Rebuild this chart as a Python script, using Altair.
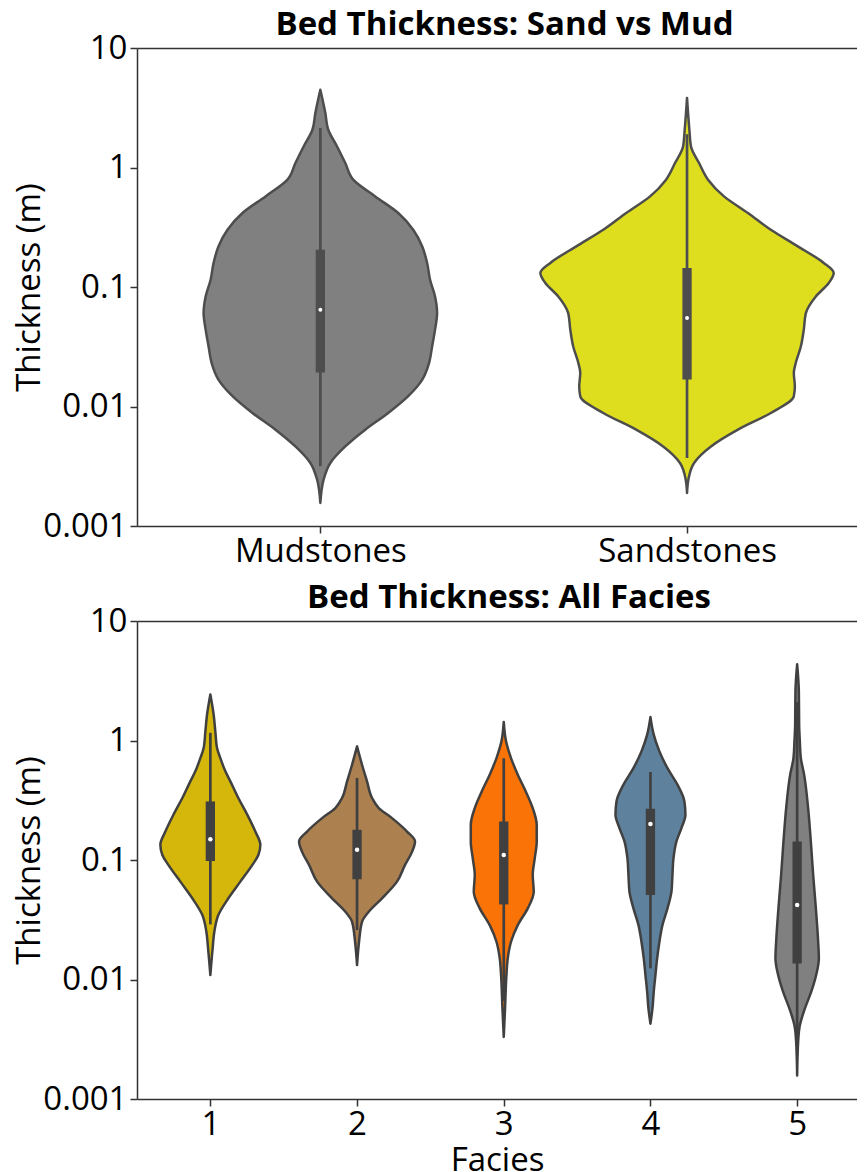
import altair as alt
import pandas as pd

FONT = "Open Sans"
Y_DOMAIN = [0.001, 10]
Y_TICKS = [0.001, 0.01, 0.1, 1, 10]

# ---------------- top panel: Sand vs Mud ----------------
top_groups = ["Mudstones", "Sandstones"]
top_positions = [0, 1]
top_fill = ["#808080", "#dfde1e"]

mud_thickness = [4.48, 2.86, 2.07, 1.50, 1.09, 0.791, 0.573, 0.416, 0.301, 0.219, 0.159, 0.115,
                 0.0834, 0.0605, 0.0440, 0.0318, 0.0231, 0.0167, 0.0122, 0.00883, 0.00640,
                 0.00463, 0.00337, 0.00244, 0.00156]
mud_density = [0, 0.034, 0.054, 0.114, 0.170, 0.224, 0.374, 0.531, 0.633, 0.694, 0.728, 0.748,
               0.782, 0.796, 0.782, 0.762, 0.741, 0.694, 0.599, 0.463, 0.306, 0.170, 0.068,
               0.022, 0]

sand_thickness = [3.82, 2.07, 1.50, 1.09, 0.791, 0.573, 0.416, 0.301, 0.219, 0.159, 0.131, 0.108,
                  0.0834, 0.0605, 0.0440, 0.0318, 0.0231, 0.0191, 0.0147, 0.0122, 0.00883,
                  0.00640, 0.00463, 0.00337, 0.00244, 0.00189]
sand_density = [0, 0.016, 0.027, 0.082, 0.143, 0.252, 0.415, 0.571, 0.755, 0.932, 1.0, 0.966,
                0.878, 0.810, 0.796, 0.776, 0.741, 0.728, 0.735, 0.728, 0.571, 0.347, 0.163,
                0.048, 0.009, 0]

top_q1 = [0.0193, 0.0168]
top_median = [0.0645, 0.055]
top_q3 = [0.205, 0.144]
top_whisker_lo = [0.00316, 0.0037]
top_whisker_hi = [2.14, 1.9]

# ---------------- bottom panel: all facies ----------------
facies = ["1", "2", "3", "4", "5"]
facies_positions = [1, 2, 3, 4, 5]
facies_fill = ["#d4b70a", "#ad8050", "#f97306", "#5e819d", "#808080"]

f1_thickness = [2.43, 1.65, 1.19, 0.865, 0.713, 0.552, 0.455, 0.330, 0.239, 0.173, 0.134, 0.110,
                0.0910, 0.0659, 0.0478, 0.0346, 0.0251, 0.0182, 0.0109]
f1_density = [0, 0.056, 0.085, 0.114, 0.170, 0.256, 0.341, 0.477, 0.630, 0.767, 0.852, 0.818,
              0.716, 0.511, 0.307, 0.136, 0.068, 0.039, 0]

f2_thickness = [0.893, 0.627, 0.455, 0.330, 0.272, 0.224, 0.173, 0.143, 0.117, 0.0910, 0.0659,
                0.0478, 0.0369, 0.0304, 0.0207, 0.0132]
f2_density = [0, 0.085, 0.170, 0.256, 0.370, 0.596, 0.852, 0.988, 0.937, 0.818, 0.681, 0.426,
              0.199, 0.085, 0.034, 0]

f3_thickness = [1.43, 0.984, 0.713, 0.518, 0.375, 0.272, 0.197, 0.143, 0.103, 0.0750, 0.0543,
                0.0394, 0.0285, 0.0207, 0.0150, 0.0109, 0.00570, 0.00330]
f3_density = [0, 0.039, 0.124, 0.239, 0.375, 0.494, 0.562, 0.562, 0.528, 0.494, 0.511, 0.409,
              0.239, 0.124, 0.068, 0.046, 0.022, 0]

f4_thickness = [1.57, 1.12, 0.811, 0.587, 0.427, 0.309, 0.239, 0.185, 0.143, 0.103, 0.0750,
                0.0543, 0.0394, 0.0285, 0.0207, 0.0150, 0.0109, 0.00787, 0.00570, 0.00427]
f4_density = [0, 0.056, 0.153, 0.290, 0.460, 0.579, 0.596, 0.528, 0.443, 0.392, 0.375, 0.358,
              0.290, 0.204, 0.153, 0.114, 0.085, 0.056, 0.034, 0]

f5_thickness = [4.34, 2.59, 1.36, 0.984, 0.713, 0.518, 0.272, 0.143, 0.0750, 0.0394, 0.0207,
                0.0150, 0.0109, 0.00787, 0.00570, 0.00414, 0.00300, 0.00157]
f5_density = [0, 0.029, 0.034, 0.046, 0.063, 0.119, 0.187, 0.233, 0.273, 0.319, 0.358, 0.370,
              0.324, 0.239, 0.131, 0.046, 0.017, 0]

facies_q1 = [0.098, 0.069, 0.0425, 0.051, 0.0136]
facies_median = [0.149, 0.122, 0.110, 0.20, 0.042]
facies_q3 = [0.309, 0.179, 0.21, 0.268, 0.143]
facies_whisker_lo = [0.0289, 0.0259, 0.0066, 0.0124, 0.0032]
facies_whisker_hi = [1.16, 0.486, 0.71, 0.545, 2.1]

HALF_WIDTH = 0.4  # half of the violin width (0.8 of category spacing)
PLOT_W = 720
PLOT_H = 478


def violin_table(groups, positions, thicknesses, densities):
    rows = []
    for g, p, ts, ds in zip(groups, positions, thicknesses, densities):
        for t, d in zip(ts, ds):
            rows.append({"group": g, "pos": p, "thickness": t, "density": d})
    df = pd.DataFrame(rows)
    df["lo"] = df["pos"] - df["density"] * HALF_WIDTH
    df["hi"] = df["pos"] + df["density"] * HALF_WIDTH
    return df


def box_table(groups, positions, q1, med, q3, wlo, whi):
    return pd.DataFrame({"group": groups, "pos": positions, "q1": q1, "med": med,
                         "q3": q3, "wlo": wlo, "whi": whi})


def y_axis():
    return alt.Axis(values=Y_TICKS, format="~g", title="Thickness (m)", grid=False,
                    labelPadding=3, titlePadding=-4)


def panel(vdf, bdf, groups, fills, xdomain, xvalues, label_expr, title, xtitle, outline,
          dot_size, title_dx):
    xs = alt.Scale(domain=xdomain, nice=False, zero=False)
    ys = alt.Scale(type="log", domain=Y_DOMAIN, nice=False)
    xaxis_kwargs = dict(values=xvalues, labelExpr=label_expr, grid=False, labelPadding=2)
    if xtitle:
        xaxis_kwargs["title"] = xtitle
        xaxis_kwargs["titlePadding"] = 3
    else:
        xaxis_kwargs["title"] = None
    area = alt.Chart(vdf).mark_area(
        orient="horizontal", interpolate="monotone", stroke=outline, strokeWidth=2.5,
        fillOpacity=1, strokeJoin="round"
    ).encode(
        x=alt.X("lo:Q", scale=xs, stack=False, axis=alt.Axis(**xaxis_kwargs)),
        x2="hi:Q",
        y=alt.Y("thickness:Q", scale=ys, axis=y_axis()),
        color=alt.Color("group:N", scale=alt.Scale(domain=groups, range=fills), legend=None),
        detail="group:N",
    )
    whisker = alt.Chart(bdf).mark_rule(color=outline, strokeWidth=2.7).encode(
        x=alt.X("pos:Q", scale=xs,
                axis=alt.Axis(orient="top", labels=False, ticks=False, title=None,
                              domain=True, grid=False)),
        y=alt.Y("wlo:Q", scale=ys, axis=y_axis()),
        y2="whi:Q",
    )
    box = alt.Chart(bdf).mark_rule(color=outline, strokeWidth=9.3).encode(
        x=alt.X("pos:Q", scale=xs, axis=None),
        y=alt.Y("q1:Q", scale=ys, axis=y_axis()),
        y2="q3:Q",
    )
    median = alt.Chart(bdf).mark_circle(color="white", size=dot_size, opacity=1).encode(
        x=alt.X("pos:Q", scale=xs, axis=None),
        y=alt.Y("med:Q", scale=ys, axis=y_axis()),
    )
    return alt.layer(area, whisker, box, median).resolve_axis(x="independent").properties(
        width=PLOT_W,
        height=PLOT_H,
        title=alt.TitleParams(title, font=FONT, fontSize=33, fontWeight="bold", color="black",
                              anchor="middle", frame="group", offset=-10, dx=title_dx),
    )


top_v = violin_table(top_groups, top_positions,
                     [mud_thickness, sand_thickness], [mud_density, sand_density])
top_b = box_table(top_groups, top_positions, top_q1, top_median, top_q3,
                  top_whisker_lo, top_whisker_hi)

bot_v = violin_table(facies, facies_positions,
                     [f1_thickness, f2_thickness, f3_thickness, f4_thickness, f5_thickness],
                     [f1_density, f2_density, f3_density, f4_density, f5_density])
bot_b = box_table(facies, facies_positions, facies_q1, facies_median, facies_q3,
                  facies_whisker_lo, facies_whisker_hi)

top = panel(top_v, top_b, top_groups, top_fill, [-0.5, 1.4635], [0, 1],
            "datum.value == 0 ? 'Mudstones' : 'Sandstones'",
            "Bed Thickness: Sand vs Mud", None, "#4d4d4d", 16, 7.5)
bottom = panel(bot_v, bot_b, facies, facies_fill, [0.5, 5.408], [1, 2, 3, 4, 5],
               "format(datum.value, 'd')",
               "Bed Thickness: All Facies", "Facies", "#404040", 20, 12)

chart = alt.vconcat(top, bottom, spacing=14).resolve_scale(color="independent").properties(
    padding={"left": 5, "top": 1, "right": 0, "bottom": 0}
).configure_view(stroke=None).configure_axis(
    domainColor="#333333", domainWidth=1.5, tickColor="#333333", tickWidth=1.5, tickSize=7,
    labelFont=FONT, labelFontSize=33, labelColor="black",
    titleFont=FONT, titleFontSize=33, titleFontWeight="normal", titleColor="black",
)

chart.save("out.html", embed_options={"renderer": "svg", "actions": False})
